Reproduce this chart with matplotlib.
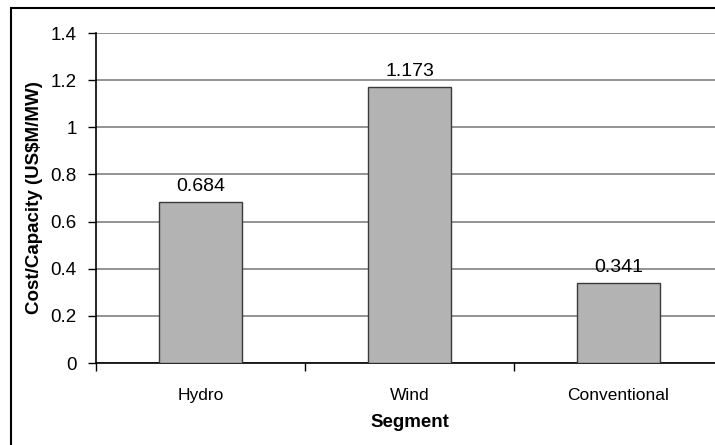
import matplotlib
matplotlib.use("Agg")
import matplotlib.pyplot as plt
from matplotlib.patches import Rectangle
import numpy as np

# cost per installed capacity by generation segment
segments = ["Hydro", "Wind", "Conventional"]
cost_per_mw = [0.684, 1.173, 0.341]
y_ticks = [0, 0.2, 0.4, 0.6, 0.8, 1.0, 1.2, 1.4]
y_tick_labels = ["0", "0.2", "0.4", "0.6", "0.8", "1", "1.2", "1.4"]

plt.rcParams["font.family"] = ["Liberation Sans", "DejaVu Sans"]

W, H = 715, 445
fig = plt.figure(figsize=(W / 100, H / 100), dpi=100)

# chart-area frame (runs off the right and bottom edge)
fig.patches.append(Rectangle((11 / W, -0.05), 1.1, 1 - 8 / H + 0.05,
                             transform=fig.transFigure, fill=False,
                             edgecolor="black", linewidth=1.5, zorder=0))

ax = fig.add_axes([96 / W, 82 / H, 627 / W, 330 / H])
x = np.arange(len(segments))
bars = ax.bar(x, cost_per_mw, width=0.4, color="#b3b3b3",
              edgecolor="#3a3a3a", linewidth=1.0, zorder=3)

for xi, v in zip(x, cost_per_mw):
    ax.annotate(f"{v:.3f}", (xi, v), xytext=(0, 5), textcoords="offset points",
                ha="center", va="bottom", fontsize=14)

ax.set_xlim(-0.5, 2.5)
ax.set_ylim(0, 1.4)
ax.set_yticks(y_ticks)
ax.set_yticklabels(y_tick_labels, fontsize=13.5)
ax.yaxis.grid(True, color="#808080", linewidth=1.2, zorder=0)
ax.set_axisbelow(True)

# category boundary ticks, labels centred between them
ax.set_xticks(np.arange(-0.5, 3.0, 1.0))
ax.set_xticklabels([])
ax.set_xticks(x, minor=True)
ax.set_xticklabels(segments, minor=True, fontsize=12.5)
ax.tick_params(axis="x", which="major", direction="out", length=6, width=1)
ax.tick_params(axis="x", which="minor", length=0, pad=18)
ax.tick_params(axis="y", direction="out", length=6, width=1, pad=8)

for side in ("top", "right"):
    ax.spines[side].set_visible(False)
for side in ("left", "bottom"):
    ax.spines[side].set_linewidth(1.2)

ax.set_xlabel("Segment", fontsize=13.5, fontweight="bold", labelpad=8)
ax.set_ylabel("Cost/Capacity (US$M/MW)", fontsize=13.5, fontweight="bold", labelpad=5)

fig.savefig("out.png", dpi=100)
